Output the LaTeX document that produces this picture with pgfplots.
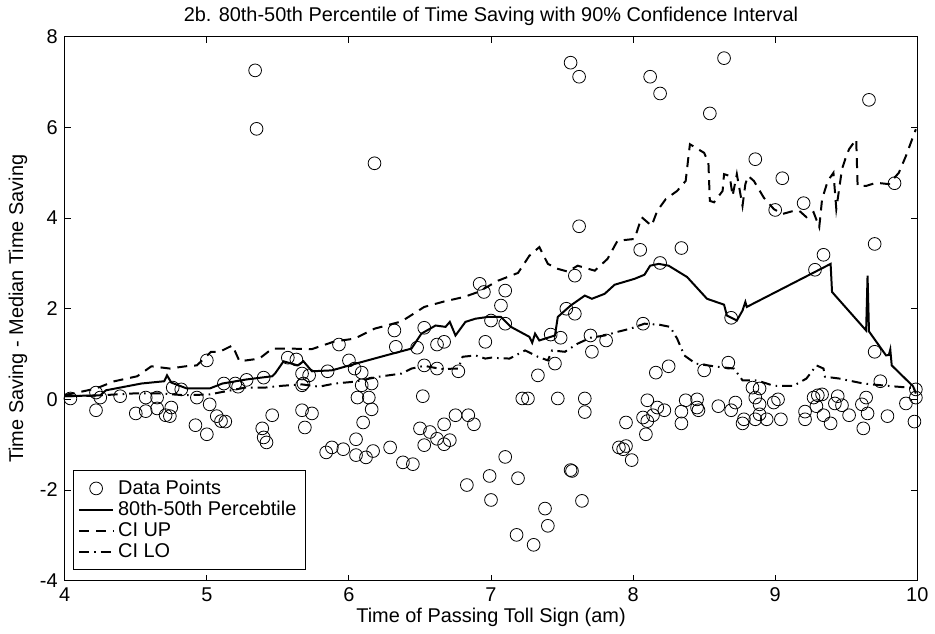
\documentclass[border=0pt]{standalone}
\usepackage{fontspec}
\setmainfont{Liberation Sans}
\usepackage{pgfplots}
\pgfplotsset{compat=1.18}

% scatter of individual trips
\pgfplotstableread{
x y
3.99 0.04
4.04 0.02
4.22 0.15
4.22 -0.24
4.25 0.04
4.39 0.07
4.57 0.04
4.65 0.04
4.57 -0.26
4.50 -0.31
4.65 -0.20
4.71 -0.35
4.75 -0.18
4.74 -0.37
4.76 0.26
4.82 0.22
5.00 0.86
4.93 0.04
5.02 -0.11
4.92 -0.57
5.00 -0.77
5.07 -0.37
5.10 -0.48
5.13 -0.49
5.12 0.35
5.20 0.35
5.22 0.28
5.28 0.43
5.40 0.48
5.46 -0.35
5.39 -0.64
5.40 -0.84
5.42 -0.95
5.34 7.26
5.35 5.97
6.18 5.21
6.92 2.55
6.95 2.37
6.32 1.52
6.53 1.58
5.93 1.21
6.33 1.16
6.48 1.14
6.62 1.21
6.67 1.27
6.96 1.27
5.57 0.92
5.63 0.88
6.00 0.86
5.85 0.62
6.04 0.68
6.09 0.59
5.67 0.57
5.72 0.53
6.53 0.75
6.62 0.68
6.77 0.62
5.68 0.35
5.67 0.31
6.09 0.31
6.16 0.35
5.67 -0.24
5.74 -0.31
5.69 -0.62
6.06 0.04
6.14 0.04
6.16 -0.22
6.10 -0.51
6.52 0.07
6.50 -0.64
6.57 -0.72
6.62 -0.87
6.67 -0.99
6.71 -0.90
6.67 -0.55
6.75 -0.35
6.84 -0.35
6.88 -0.55
6.53 -1.01
6.05 -0.88
5.84 -1.17
5.88 -1.06
5.96 -1.10
6.05 -1.23
6.12 -1.28
6.17 -1.14
6.29 -1.06
6.38 -1.39
6.45 -1.43
6.83 -1.89
7.62 3.82
8.05 3.30
8.34 3.34
7.59 2.73
8.19 3.01
7.10 2.40
7.07 2.07
7.00 1.74
7.10 1.67
7.53 2.00
7.59 1.89
7.42 1.43
7.49 1.36
7.70 1.41
7.81 1.30
7.71 1.05
8.07 1.67
7.45 0.79
7.33 0.53
8.25 0.73
8.16 0.59
7.22 0.02
7.26 0.02
7.47 0.02
7.66 0.02
7.66 -0.28
7.95 -0.51
8.07 -0.40
8.10 -0.48
8.14 -0.35
8.17 -0.18
8.10 -0.02
8.22 -0.24
8.09 -0.77
8.34 -0.27
8.34 -0.53
8.37 -0.02
7.90 -1.06
7.93 -1.10
7.95 -1.03
7.99 -1.34
7.10 -1.27
6.99 -1.69
7.19 -1.74
7.56 -1.56
7.57 -1.58
7.00 -2.22
7.64 -2.24
7.38 -2.41
7.40 -2.79
7.18 -2.99
7.30 -3.21
7.56 7.43
7.62 7.12
8.12 7.12
8.19 6.75
8.54 6.31
8.64 7.53
9.66 6.61
8.86 5.30
9.05 4.88
9.00 4.18
9.20 4.33
9.84 4.77
9.70 3.43
9.34 3.19
9.28 2.86
8.69 1.80
8.50 0.64
8.67 0.81
9.70 1.05
9.74 0.40
9.99 0.22
9.99 0.04
9.98 -0.49
9.92 -0.09
8.45 0.00
8.45 -0.18
8.46 -0.24
8.60 -0.15
8.69 -0.24
8.72 -0.07
8.77 -0.53
8.78 -0.44
8.84 0.26
8.89 0.24
8.86 0.04
8.89 -0.11
8.86 -0.44
8.89 -0.33
8.94 -0.44
8.99 -0.07
9.02 0.00
9.04 -0.44
9.21 -0.27
9.21 -0.44
9.27 0.04
9.30 0.09
9.33 0.11
9.29 -0.15
9.34 -0.35
9.39 -0.53
9.42 -0.09
9.44 0.07
9.47 -0.13
9.52 -0.35
9.61 -0.11
9.64 0.04
9.65 -0.31
9.62 -0.64
9.79 -0.37
}\pts

\pgfplotstableread{
x y
4.00 0.07
4.25 0.09
4.29 0.20
4.54 0.35
4.70 0.40
4.72 0.53
4.75 0.37
4.86 0.24
5.02 0.24
5.11 0.35
5.28 0.44
5.46 0.51
5.48 0.57
5.54 0.84
5.64 0.75
5.68 0.84
5.74 0.62
5.88 0.64
6.05 0.79
6.26 0.97
6.44 1.12
6.51 1.45
6.61 1.63
6.68 1.60
6.71 1.71
6.75 1.41
6.82 1.71
6.89 1.78
6.98 1.82
7.07 1.82
7.14 1.60
7.27 1.38
7.29 1.25
7.31 1.45
7.34 1.30
7.45 1.41
7.47 1.82
7.56 2.07
7.66 2.29
7.71 2.22
7.80 2.33
7.87 2.53
8.01 2.66
8.08 2.75
8.12 2.95
8.18 2.99
8.25 2.95
8.38 2.70
8.52 2.22
8.64 2.09
8.66 1.85
8.73 1.74
8.77 1.96
8.79 2.15
8.80 2.04
9.39 2.99
9.40 2.37
9.64 1.52
9.65 2.73
9.66 1.50
9.78 0.97
9.80 0.98
9.81 1.10
9.82 0.75
9.97 0.29
9.99 0.13
}\pct

\pgfplotstableread{
x y
4.00 0.10
4.06 0.13
4.22 0.24
4.35 0.40
4.51 0.51
4.61 0.73
4.74 0.68
4.85 0.73
4.93 0.75
5.03 1.05
5.09 1.05
5.18 1.19
5.23 0.84
5.37 0.90
5.46 1.12
5.58 1.12
5.74 1.11
5.90 1.28
6.04 1.34
6.18 1.56
6.37 1.72
6.53 2.04
6.67 2.16
6.81 2.26
6.91 2.37
7.05 2.62
7.19 2.79
7.27 3.17
7.34 3.36
7.40 2.99
7.47 2.88
7.54 2.82
7.61 2.95
7.73 2.84
7.82 3.10
7.89 3.50
8.01 3.54
8.06 4.02
8.13 3.83
8.17 4.16
8.23 4.42
8.31 4.60
8.37 4.82
8.39 5.37
8.40 5.63
8.50 5.44
8.53 5.22
8.54 4.38
8.57 4.35
8.63 4.60
8.64 4.97
8.68 4.93
8.70 4.49
8.73 4.97
8.77 4.27
8.79 4.75
8.81 4.93
8.85 4.82
8.92 4.45
8.99 4.20
9.05 4.09
9.13 4.16
9.17 4.16
9.22 4.02
9.27 4.13
9.31 3.80
9.33 4.42
9.37 4.82
9.41 5.00
9.43 4.20
9.47 5.08
9.50 5.37
9.52 5.52
9.57 5.74
9.58 4.71
9.64 4.71
9.71 4.78
9.80 4.75
9.87 5.00
9.92 5.37
9.98 5.88
9.99 5.96
}\ciup

\pgfplotstableread{
x y
4.00 0.07
4.20 0.08
4.48 0.13
4.67 0.13
4.85 0.09
5.02 0.11
5.27 0.26
5.41 0.26
5.53 0.30
5.67 0.33
5.79 0.28
5.90 0.35
6.04 0.39
6.21 0.50
6.37 0.57
6.44 0.68
6.53 0.74
6.65 0.67
6.77 0.68
6.80 0.94
6.89 0.97
6.96 0.90
7.00 0.92
7.13 0.90
7.24 1.08
7.33 0.94
7.40 0.86
7.43 1.08
7.52 1.05
7.61 1.23
7.70 1.36
7.80 1.41
7.89 1.49
7.98 1.56
8.08 1.67
8.18 1.65
8.26 1.60
8.31 1.34
8.36 0.97
8.44 0.79
8.59 0.72
8.71 0.68
8.77 0.42
8.87 0.42
8.99 0.30
9.13 0.30
9.22 0.46
9.29 0.75
9.34 0.68
9.35 0.50
9.45 0.46
9.62 0.35
9.78 0.30
9.94 0.26
9.99 0.23
}\cilo

\begin{document}
\begin{tikzpicture}
\begin{axis}[
    scale only axis,
    width=428pt, height=273pt,
    xmin=4, xmax=10, ymin=-4, ymax=8,
    xtick={4,...,10}, ytick={-4,-2,...,8},
    tick align=inside, major tick length=3pt,
    axis line style={line width=0.5pt},
    every tick/.style={black, line width=0.5pt},
    font=\fontsize{10}{12}\selectfont,
    /pgf/number format/assume math mode=true,
    every axis title shift=0pt,
    title={2b. 80th-50th Percentile of Time Saving with 90\% Confidence Interval},
    title style={at={(axis description cs:0.5,1.038)}, anchor=center},
    xlabel={Time of Passing Toll Sign (am)},
    xlabel style={at={(axis description cs:0.5,-0.068)}, anchor=center},
    ylabel={Time Saving - Median Time Saving},
    ylabel style={at={(axis description cs:-0.055,0.5)}, anchor=center},
    legend style={at={(rel axis cs:0.0093,0.02)}, anchor=south west,
        draw=black, line width=0.5pt, font=\fontsize{10}{11}\selectfont,
        row sep=-2pt, inner sep=2.5pt},
    legend cell align=left,
]
\addplot[only marks, mark=o, mark size=3.2pt, mark options={line width=0.4pt, black}] table {\pts};
\addlegendentry{Data Points}
\addplot[black, line width=1pt] table {\pct};
\addlegendentry{80th-50th Percebtile}
\addplot[black, line width=1pt, dash pattern=on 5pt off 3.5pt] table {\ciup};
\addlegendentry{CI UP}
\addplot[black, line width=1pt, dash pattern=on 5pt off 2.5pt on 0.8pt off 2.5pt] table {\cilo};
\addlegendentry{CI LO}
\end{axis}
\path (current axis.south west) ++(-32.5pt,-26pt);
\path (current axis.north east) ++(7pt,18.5pt);
\end{tikzpicture}
\end{document}
